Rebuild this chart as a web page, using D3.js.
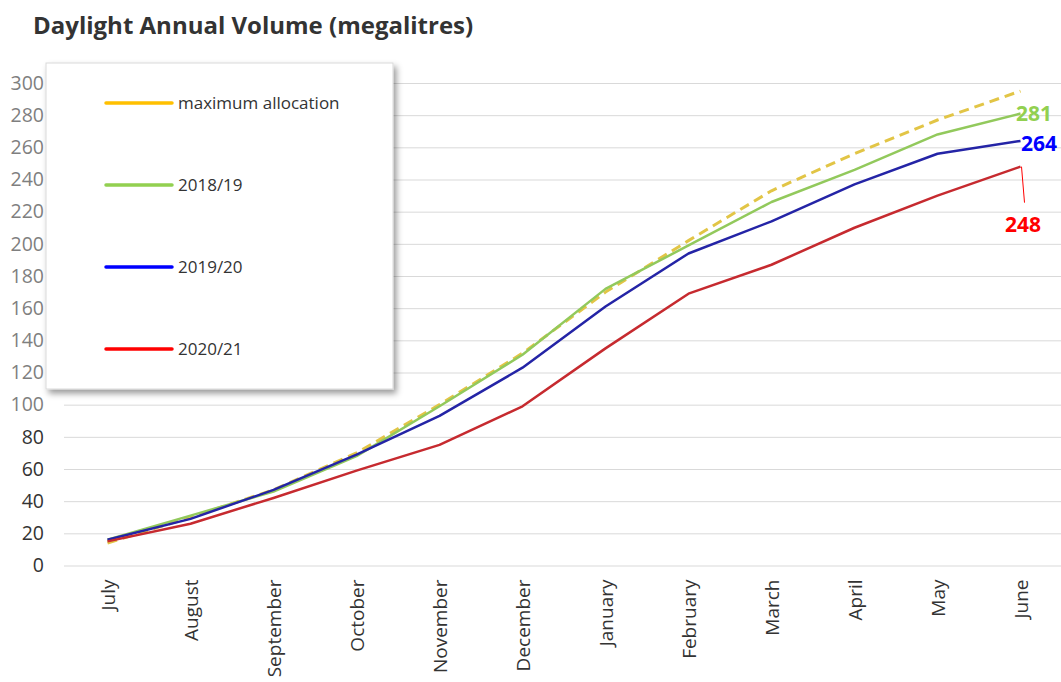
<!DOCTYPE html>
<html lang="en">
  <head>
    <meta charset="UTF-8" />
    <script src="https://d3js.org/d3.v7.min.js"></script>
    <title>Daylight Annual Volume</title>
    <style type="text/css">
      body {
        margin: 0;
        background: #fff;
      }
      .title {
        font-family: 'Open Sans', sans-serif;
        font-weight: bold;
        font-size: 24px;
        fill: #333;
      }
      .y-axis .tick line {
        stroke: #d9d9d9;
      }
      .y-axis .tick text {
        font-family: 'Open Sans', sans-serif;
        font-size: 19.5px;
      }
      .x-axis .tick text {
        font-family: 'Open Sans', sans-serif;
        font-size: 19px;
        fill: #333;
      }
      .legend-text {
        font-family: 'Open Sans', sans-serif;
        font-size: 17px;
        fill: #333;
      }
      .end-label {
        font-family: 'Open Sans', sans-serif;
        font-weight: bold;
        font-size: 21px;
      }
    </style>
  </head>
  <body>
    <svg width="1061" height="682"></svg>
  </body>
  <script type="text/javascript">
    const months = ['July', 'August', 'September', 'October', 'November', 'December',
      'January', 'February', 'March', 'April', 'May', 'June'];
    const maxAllocation = [14, 30, 47, 70, 100, 132, 170, 202, 233, 256, 277, 295];
    const y2018 = [16, 31, 46, 68, 99, 131, 172, 199, 226, 246, 268, 281];
    const y2019 = [16, 29, 47, 69, 93, 123, 161, 194, 214, 237, 256, 264];
    const y2020 = [15, 26, 42, 59, 75, 99, 135, 169, 187, 210, 230, 248];
    const yTicks = [0, 20, 40, 60, 80, 100, 120, 140, 160, 180, 200, 220, 240, 260, 280, 300];

    const series = [
      { name: 'maximum allocation', values: maxAllocation, line: '#e2c546', legend: '#ffc000', dash: '10,6' },
      { name: '2018/19', values: y2018, line: '#92c95c', legend: '#92d050', dash: null },
      { name: '2019/20', values: y2019, line: '#2424a6', legend: '#0000ff', dash: null },
      { name: '2020/21', values: y2020, line: '#c62a2f', legend: '#ff0000', dash: null },
    ];

    const svg = d3.select('svg');
    const plotLeft = 64, plotRight = 1061, plotTop = 83, plotBottom = 565.5;

    // title
    svg.append('text').attr('class', 'title').attr('x', 33).attr('y', 34).text('Daylight Annual Volume (megalitres)');

    const xScale = d3.scalePoint().domain(months).range([plotLeft + 2, plotRight + 1]).padding(0.5);
    const yScale = d3.scaleLinear().domain([0, 300]).range([plotBottom, plotTop]);

    // gridlines + y labels
    const yAxis = svg.append('g')
      .attr('class', 'y-axis')
      .attr('transform', `translate(${plotLeft}, 0)`)
      .call(d3.axisLeft(yScale).tickValues(yTicks).tickSize(-(plotRight - plotLeft)).tickPadding(20));
    yAxis.select('.domain').remove();
    yAxis.selectAll('.tick text').attr('fill', (d) => (d >= 100 ? '#7f7f7f' : '#333'));

    // x labels
    const xAxis = svg.append('g')
      .attr('class', 'x-axis')
      .attr('transform', `translate(0, ${plotBottom})`)
      .call(d3.axisBottom(xScale).tickSize(0));
    xAxis.select('.domain').remove();
    xAxis.selectAll('.tick text')
      .attr('transform', 'rotate(-90)')
      .attr('text-anchor', 'end')
      .attr('x', -14)
      .attr('y', 0)
      .attr('dy', '0.35em');

    // lines
    const line = d3.line()
      .x((d, i) => xScale(months[i]))
      .y((d) => yScale(d));

    svg.selectAll('.series')
      .data(series)
      .enter()
      .append('path')
      .attr('class', 'series')
      .attr('d', (d) => line(d.values))
      .attr('fill', 'none')
      .attr('stroke', (d) => d.line)
      .attr('stroke-width', (d) => (d.dash ? 3 : 2.5))
      .attr('stroke-dasharray', (d) => d.dash)
      .attr('stroke-linejoin', 'round');

    // end labels
    const lastX = xScale(months[months.length - 1]);
    svg.append('text').attr('class', 'end-label').attr('fill', '#92d050')
      .attr('x', 1016).attr('y', yScale(y2018[11])).attr('dy', '0.35em').text(y2018[11]);
    svg.append('text').attr('class', 'end-label').attr('fill', '#0000ff')
      .attr('x', 1021).attr('y', yScale(y2019[11]) + 3).attr('dy', '0.35em').text(y2019[11]);
    svg.append('line')
      .attr('x1', lastX + 1).attr('y1', yScale(y2020[11]))
      .attr('x2', lastX + 4).attr('y2', yScale(y2020[11]) + 36)
      .attr('stroke', '#ff0000').attr('stroke-width', 1);
    svg.append('text').attr('class', 'end-label').attr('fill', '#ff0000')
      .attr('x', 1005).attr('y', yScale(y2020[11]) + 58).attr('dy', '0.35em').text(y2020[11]);

    // legend
    const defs = svg.append('defs');
    const filter = defs.append('filter').attr('id', 'shadow').attr('x', '-10%').attr('y', '-10%').attr('width', '130%').attr('height', '130%');
    filter.append('feDropShadow').attr('dx', 3).attr('dy', 4).attr('stdDeviation', 3).attr('flood-color', '#000').attr('flood-opacity', 0.4);

    const legendG = svg.append('g').attr('transform', 'translate(46, 63)');
    legendG.append('rect')
      .attr('width', 347).attr('height', 326)
      .attr('fill', '#fff')
      .attr('stroke', '#d9d9d9')
      .attr('filter', 'url(#shadow)');

    const legendItems = legendG.selectAll('.item')
      .data(series)
      .enter()
      .append('g')
      .attr('class', 'item')
      .attr('transform', (d, i) => `translate(60, ${40 + i * 82})`);
    legendItems.append('line')
      .attr('x1', 0).attr('x2', 66)
      .attr('stroke', (d) => d.legend)
      .attr('stroke-width', 3.5)
      .attr('stroke-linecap', 'round');
    legendItems.append('text')
      .attr('class', 'legend-text')
      .attr('x', 72).attr('dy', '0.35em')
      .text((d) => d.name);
  </script>
</html>
